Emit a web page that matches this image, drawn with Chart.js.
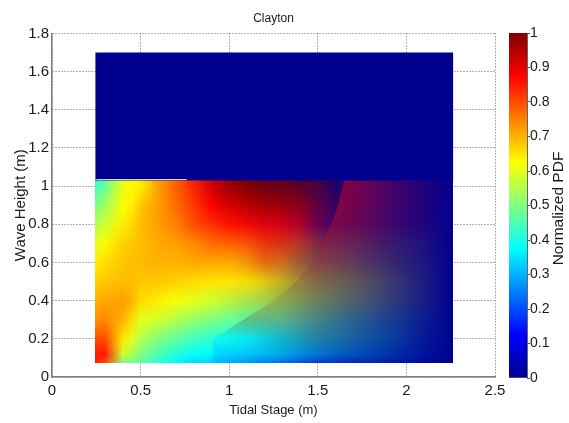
<!DOCTYPE html>
<html>
<head>
<meta charset="utf-8">
<title>Clayton</title>
<script src="https://cdn.jsdelivr.net/npm/chart.js@4/dist/chart.umd.min.js"></script>
<style>
  html, body { margin: 0; padding: 0; background: #fff; }
  #wrap { position: relative; width: 569px; height: 423px; overflow: hidden; }
  canvas { position: absolute; top: 0; }
  #main { left: 0; }
  #bar { left: 509px; }
</style>
</head>
<body>
<div id="wrap">
  <canvas id="main" width="569" height="423"></canvas>
  <canvas id="bar" width="60" height="423"></canvas>
</div>
<script>
// Wave height rows of the field, bottom first
const waveNodes = [0.072, 0.12, 0.2, 0.3, 0.4, 0.5, 0.6, 0.7, 0.8, 0.9, 1.0, 1.03];

// The field has a visible seam: edgeTide is the seam's tidal stage on each row
const edgeTide = [0.91, 0.91, 0.91, 1.08, 1.25, 1.38, 1.465, 1.52, 1.578, 1.615, 1.64, 1.65];

// Left of the seam
const leftTide = [0.244, 0.3, 0.4, 0.45, 0.5, 0.6, 0.7, 0.8, 0.9, 1.0, 1.1, 1.2, 1.3, 1.4, 1.5, 1.6, 1.7];
const leftPdf = [
  [.85,.80,.50,.48,.47,.41,.37,.34,.33,.31,.27,.27,.27,.27,.27,.27,.27],
  [.85,.85,.58,.54,.50,.45,.41,.38,.37,.34,.32,.32,.32,.32,.32,.32,.32],
  [.80,.80,.65,.60,.55,.50,.47,.44,.42,.40,.38,.38,.38,.38,.38,.38,.38],
  [.73,.74,.70,.66,.60,.58,.55,.52,.50,.48,.47,.47,.47,.47,.47,.47,.47],
  [.70,.71,.72,.70,.66,.64,.62,.60,.58,.57,.56,.57,.58,.58,.58,.58,.58],
  [.67,.68,.69,.69,.68,.68,.67,.66,.65,.65,.65,.65,.65,.65,.65,.65,.65],
  [.64,.66,.68,.69,.69,.70,.70,.71,.71,.71,.72,.76,.74,.73,.73,.73,.73],
  [.60,.62,.67,.68,.69,.71,.72,.74,.77,.78,.79,.82,.82,.80,.80,.80,.80],
  [.55,.58,.64,.66,.69,.72,.75,.80,.83,.86,.87,.88,.88,.88,.88,.88,.88],
  [.50,.53,.62,.64,.68,.72,.77,.82,.88,.92,.94,.96,.96,.96,.96,.96,.96],
  [.43,.48,.60,.63,.64,.72,.78,.84,.92,.97,1.0,1.0,1.0,1.0,1.0,1.0,1.0],
  [.43,.48,.60,.63,.64,.72,.78,.84,.92,.97,1.0,1.0,1.0,1.0,1.0,1.0,1.0]
];
const leftFade = [
  [0,0,0,0,0,0,0,0,0,0,0,0,0,0,0,0,0],
  [0,0,0,0,0,0,0,0,0,0,0,0,0,0,0,0,0],
  [0,0,0,0,0,0,0,0,0,0,0,0,0,0,0,0,0],
  [0,0,0,0,0,0,0,0,0,0,.05,.10,.20,.30,.40,.50,.60],
  [0,0,0,0,0,0,0,0,0,.05,.10,.18,.30,.40,.50,.60,.65],
  [0,0,0,0,0,0,0,0,0,0,.03,.12,.25,.38,.45,.55,.60],
  [0,0,0,0,0,0,0,0,0,0,.05,.10,.20,.40,.50,.60,.65],
  [0,0,0,0,0,0,0,0,0,0,.03,.07,.15,.30,.50,.60,.65],
  [0,0,0,0,0,0,0,0,0,0,.05,.10,.17,.30,.57,.72,.75],
  [0,0,0,0,0,0,0,0,0,0,0,.02,.08,.20,.45,.68,.70],
  [0,0,0,0,0,0,0,0,0,0,0,.15,.20,.30,.45,.75,.80],
  [0,0,0,0,0,0,0,0,0,0,0,.15,.20,.30,.45,.75,.80]
];

// Right of the seam
const rightTide = [0.9, 1.1, 1.3, 1.5, 1.7, 1.9, 2.1, 2.265];
const rightPdf = [
  [.31,.28,.25,.22,.22,.22,.22,.22],
  [.34,.33,.33,.32,.32,.32,.32,.32],
  [.39,.38,.40,.44,.43,.42,.42,.42],
  [.50,.50,.50,.50,.49,.48,.47,.47],
  [.58,.58,.58,.59,.58,.58,.58,.58],
  [.66,.66,.66,.67,.65,.63,.62,.62],
  [.76,.76,.76,.75,.73,.70,.68,.68],
  [.81,.81,.81,.81,.79,.77,.75,.75],
  [.86,.86,.86,.86,.86,.85,.85,.85],
  [.87,.87,.87,.87,.87,.86,.86,.86],
  [.875,.875,.875,.875,.87,.87,.87,.87],
  [.875,.875,.875,.875,.87,.87,.87,.87]
];
const rightFade = [
  [0,.05,.15,.42,.58,.72,.90,1],
  [0,.05,.20,.40,.60,.74,.90,1],
  [0,.08,.30,.50,.62,.75,.90,1],
  [.15,.25,.30,.48,.62,.75,.89,1],
  [.10,.20,.33,.50,.62,.75,.89,1],
  [.10,.20,.33,.50,.62,.76,.89,1],
  [.10,.20,.30,.48,.62,.77,.89,1],
  [.10,.20,.30,.48,.60,.76,.88,1],
  [.10,.20,.30,.47,.58,.75,.88,1],
  [.10,.20,.30,.42,.55,.72,.87,1],
  [.10,.20,.30,.42,.53,.72,.87,1],
  [.10,.20,.30,.42,.53,.72,.87,1]
];

// Solid navy block above the field
const blockTide = [0.244, 2.265];
const blockWave = [1.70, 1.70];
const blockBase = 1.03;

// The thin white streak along the top of the field
const streakTide = [0.25, 0.76];
const streakWave = [1.034, 1.034];

const tideTicks = [0, 0.5, 1, 1.5, 2, 2.5];
const waveTicks = [0, 0.2, 0.4, 0.6, 0.8, 1, 1.2, 1.4, 1.6, 1.8];
const pdfTicks = [0, 0.1, 0.2, 0.3, 0.4, 0.5, 0.6, 0.7, 0.8, 0.9, 1];

// jet colormap, same as the colorbar
const jetStops = [
  [0, [0, 0, 143]],
  [0.125, [0, 0, 255]],
  [0.375, [0, 255, 255]],
  [0.625, [255, 255, 0]],
  [0.875, [255, 0, 0]],
  [1, [128, 0, 0]]
];
const navy = jetStops[0][1];

function jet(v) {
  for (let i = 1; i < jetStops.length; i++) {
    if (v <= jetStops[i][0]) {
      const [p0, c0] = jetStops[i - 1], [p1, c1] = jetStops[i];
      const t = (v - p0) / (p1 - p0);
      return c0.map((c, k) => c + (c1[k] - c) * t);
    }
  }
  return jetStops[jetStops.length - 1][1];
}

function segment(nodes, val) {
  let i = 0;
  while (i < nodes.length - 2 && val > nodes[i + 1]) i++;
  return [i, Math.min(1, Math.max(0, (val - nodes[i]) / (nodes[i + 1] - nodes[i])))];
}

function nodeColors(pdf, fade) {
  return pdf.map((row, j) => row.map((v, i) => {
    const c = jet(v), f = fade[j][i];
    return c.map((ch, k) => ch + (navy[k] - ch) * f);
  }));
}
const leftColors = nodeColors(leftPdf, leftFade);
const rightColors = nodeColors(rightPdf, rightFade);

// Paints the field under the other datasets, shaded between nodes like MATLAB's interp
const fieldPlugin = {
  id: 'field',
  beforeDatasetsDraw(chart) {
    const {ctx, scales: {x, y}} = chart;
    const px0 = Math.round(x.getPixelForValue(leftTide[0]));
    const px1 = Math.round(x.getPixelForValue(rightTide[rightTide.length - 1]));
    const py0 = Math.round(y.getPixelForValue(waveNodes[waveNodes.length - 1]));
    const py1 = Math.round(y.getPixelForValue(waveNodes[0]));
    const w = px1 - px0, h = py1 - py0;
    const img = ctx.createImageData(w, h);
    for (let py = 0; py < h; py++) {
      const [j, tj] = segment(waveNodes, y.getValueForPixel(py0 + py + 0.5));
      const edge = edgeTide[j] * (1 - tj) + edgeTide[j + 1] * tj;
      for (let px = 0; px < w; px++) {
        const val = x.getValueForPixel(px0 + px + 0.5);
        const useLeft = val < edge;
        const colors = useLeft ? leftColors : rightColors;
        const [i, ti] = segment(useLeft ? leftTide : rightTide, val);
        const o = (py * w + px) * 4;
        for (let k = 0; k < 3; k++) {
          const lo = colors[j][i][k] * (1 - ti) + colors[j][i + 1][k] * ti;
          const hi = colors[j + 1][i][k] * (1 - ti) + colors[j + 1][i + 1][k] * ti;
          img.data[o + k] = lo * (1 - tj) + hi * tj;
        }
        img.data[o + 3] = 255;
      }
    }
    ctx.putImageData(img, px0, py0);
  }
};

const tickFont = {family: '"Liberation Sans", Arial, sans-serif', size: 15};
const titleFont = {family: '"Liberation Sans", Arial, sans-serif', size: 12, weight: 'normal'};
const inkColor = '#1a1a1a';
const gridColor = '#666';
const tickText = v => String(v);

new Chart(document.getElementById('main').getContext('2d'), {
  type: 'scatter',
  data: {
    datasets: [{
      label: 'streak',
      data: streakTide.map((t, i) => ({x: t, y: streakWave[i]})),
      showLine: true,
      borderColor: '#e8e8f0',
      borderWidth: 1,
      pointRadius: 0
    }, {
      label: 'block',
      data: blockTide.map((t, i) => ({x: t, y: blockWave[i]})),
      showLine: true,
      borderWidth: 0,
      pointRadius: 0,
      backgroundColor: `rgb(${navy.join(',')})`,
      fill: {value: blockBase}
    }]
  },
  options: {
    responsive: false,
    animation: false,
    layout: {padding: {top: 0, left: 0, right: 74, bottom: 0}},
    plugins: {
      legend: {display: false},
      tooltip: {enabled: false},
      title: {
        display: true,
        fullSize: false,
        text: 'Clayton',
        color: inkColor,
        font: titleFont,
        padding: {top: 11, bottom: 8}
      }
    },
    scales: {
      x: {
        type: 'linear',
        min: 0,
        max: 2.5,
        afterBuildTicks: s => { s.ticks = tideTicks.map(value => ({value})); },
        afterFit: s => { s.height = 46; },
        ticks: {color: inkColor, font: tickFont, padding: 5, maxRotation: 0, callback: tickText},
        grid: {color: gridColor, lineWidth: 1, drawTicks: false},
        border: {color: '#808080', width: 1.5, dash: [1, 2]},
        title: {display: true, text: 'Tidal Stage (m)', color: inkColor, font: {...titleFont, size: 13}, padding: {top: 0, bottom: 5}}
      },
      y: {
        type: 'linear',
        min: 0,
        max: 1.8,
        afterBuildTicks: s => { s.ticks = waveTicks.map(value => ({value})); },
        afterFit: s => { s.width = 52; },
        ticks: {color: inkColor, font: tickFont, padding: 3, callback: tickText},
        grid: {color: gridColor, lineWidth: 1, drawTicks: false},
        border: {color: '#808080', width: 1.5, dash: [1, 2]},
        title: {display: true, text: 'Wave Height (m)', color: inkColor, font: {...titleFont, size: 15}, padding: {top: 12, bottom: 0}}
      }
    }
  },
  plugins: [fieldPlugin]
});

// Colorbar is its own small chart, one floating bar from 0 to 1
const barTitlePlugin = {
  id: 'barTitle',
  afterDraw(chart) {
    const {ctx, chartArea} = chart;
    ctx.save();
    ctx.translate(50, (chartArea.top + chartArea.bottom) / 2 + 3);
    ctx.rotate(-Math.PI / 2);
    ctx.fillStyle = inkColor;
    ctx.font = '15.5px "Liberation Sans", Arial, sans-serif';
    ctx.textAlign = 'center';
    ctx.textBaseline = 'middle';
    ctx.fillText('Normalized PDF', 0, 0);
    ctx.restore();
  }
};

new Chart(document.getElementById('bar').getContext('2d'), {
  type: 'bar',
  data: {
    labels: ['pdf'],
    datasets: [{
      data: [[pdfTicks[0], pdfTicks[pdfTicks.length - 1]]],
      barPercentage: 1,
      categoryPercentage: 1,
      backgroundColor: ctx => {
        const a = ctx.chart.chartArea;
        if (!a) return `rgb(${navy.join(',')})`;
        const g = ctx.chart.ctx.createLinearGradient(0, a.bottom, 0, a.top);
        jetStops.forEach(([p, c]) => g.addColorStop(p, `rgb(${c.join(',')})`));
        return g;
      }
    }]
  },
  options: {
    responsive: false,
    animation: false,
    layout: {padding: {top: 33, bottom: 45, left: 0, right: 0}},
    plugins: {legend: {display: false}, tooltip: {enabled: false}},
    scales: {
      x: {display: false},
      y: {
        position: 'right',
        min: 0,
        max: 1,
        afterBuildTicks: s => { s.ticks = pdfTicks.map(value => ({value})); },
        afterFit: s => { s.width = 42; },
        ticks: {color: inkColor, font: {...tickFont, size: 14}, padding: 0, callback: tickText},
        grid: {drawOnChartArea: false, color: '#555', tickLength: 3},
        border: {color: '#666'}
      }
    }
  },
  plugins: [barTitlePlugin]
});
</script>
</body>
</html>
